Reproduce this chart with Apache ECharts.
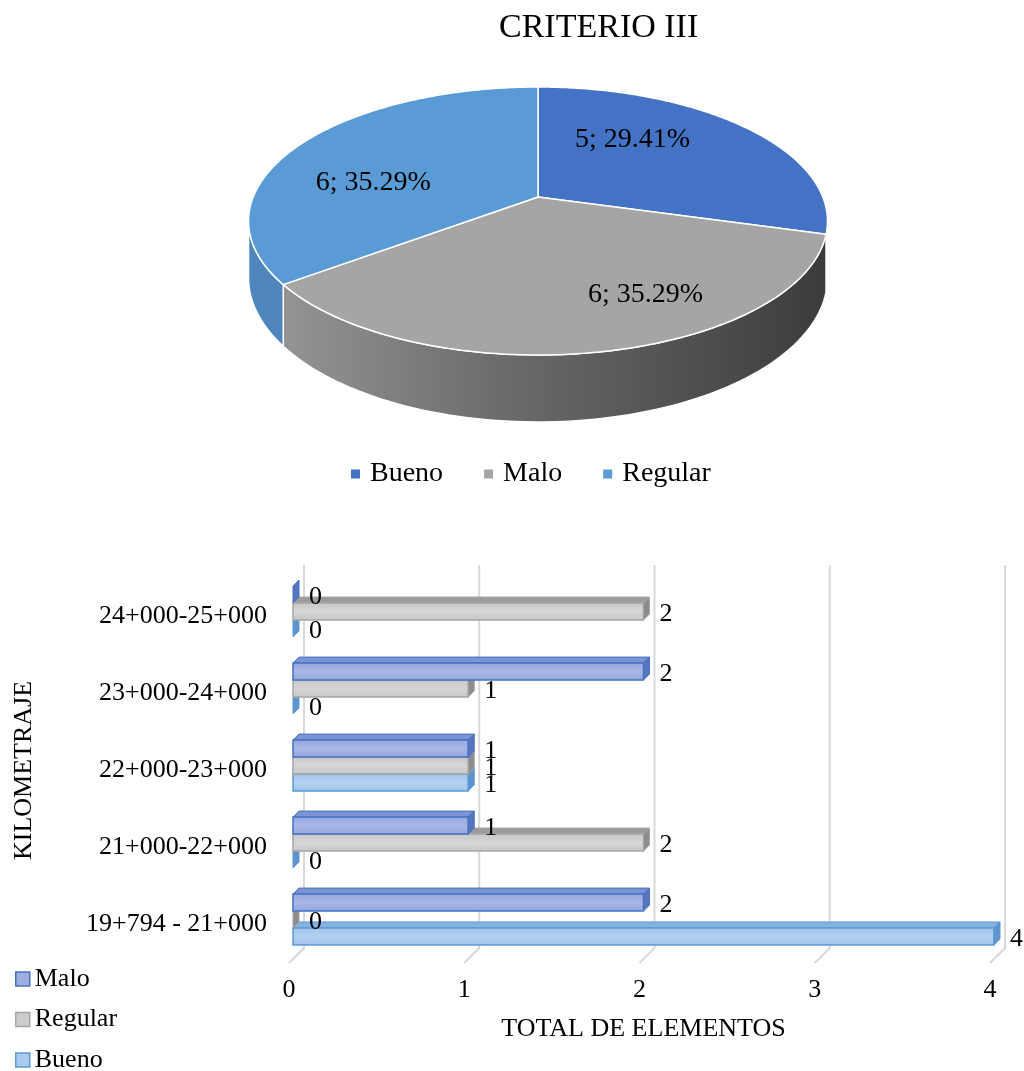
<!DOCTYPE html>
<html>
<head>
<meta charset="utf-8">
<title>CRITERIO III</title>
<script src="https://cdn.jsdelivr.net/npm/echarts@6/dist/echarts.min.js"></script>
<style>
  html, body { margin: 0; padding: 0; background: #ffffff; overflow: hidden; }
  #pie  { position: absolute; left: 0; top: 0;     width: 1024px; height: 520px; }
  #bars { position: absolute; left: 0; top: 520px; width: 1024px; height: 600px; }
</style>
</head>
<body>
<div id="pie"></div>
<div id="bars"></div>
<script>
// ---- data -------------------------------------------------------------
const pieNames = ['Bueno', 'Malo', 'Regular'];
const pieValues = [5, 6, 6];

const tramos = ['19+794 - 21+000', '21+000-22+000', '22+000-23+000', '23+000-24+000', '24+000-25+000'];
const maloValues = [2, 1, 1, 2, 0];
const regularValues = [0, 2, 1, 1, 2];
const buenoValues = [4, 0, 1, 0, 0];
const xTicks = [0, 1, 2, 3, 4];

// ---- shared look ------------------------------------------------------
const FONT = '"Liberation Serif", "Times New Roman", serif';
const TXT = '#000000';

// ======================================================================
// 3D pie drawn with custom series (one series per slice so the legend works)
// ======================================================================
const pieChart = echarts.init(document.getElementById('pie'), null, { renderer: 'canvas' });

// perspective disc: centre, half axes, perspective strength, wall height
const DISC = { cx: 538, cy: 197, a: 284.8, b: 129.7, k: 0.179, depth: 55 };
const TOP_COLORS = ['#4472C4', '#A5A5A5', '#5B9BD5'];
const WALL_FILLS = [
  new echarts.graphic.LinearGradient(250, 0, 826, 0, [{ offset: 0, color: '#3a5da0' }, { offset: 1, color: '#2c4a86' }], true),
  new echarts.graphic.LinearGradient(250, 0, 826, 0, [{ offset: 0, color: '#9a9a9a' }, { offset: 0.45, color: '#6a6a6a' }, { offset: 1, color: '#3c3c3c' }], true),
  new echarts.graphic.LinearGradient(250, 0, 826, 0, [{ offset: 0, color: '#4f86be' }, { offset: 1, color: '#3f72a8' }], true)
];

// point on the disc, phi measured clockwise from 12 o'clock, r as fraction of radius
function discPoint(phi, r) {
  const rr = r == null ? 1 : r;
  const X = rr * Math.sin(phi);
  const Z = -rr * Math.cos(phi);
  const w = 1 / (1 - DISC.k * Z);
  return [DISC.cx + DISC.a * X * w, DISC.cy + DISC.b * Z * w, w];
}

// the front arc (between the left and right silhouette points) shows its wall
const FRONT = (function () {
  let maxX = -Infinity, minX = Infinity, pR = 0, pL = 0;
  for (let n = 0; n <= 3600; n++) {
    const phi = n / 3600 * Math.PI * 2;
    const p = discPoint(phi);
    if (p[0] > maxX) { maxX = p[0]; pR = phi; }
    if (p[0] < minX) { minX = p[0]; pL = phi; }
  }
  return [pR, pL];
})();

function sliceRenderer(idx) {
  return function (params, api) {
    const total = pieValues.reduce((s, v) => s + v, 0);
    let before = 0;
    for (let j = 0; j < idx; j++) before += pieValues[j];
    const v = api.value(0);
    const a0 = before / total * Math.PI * 2;
    const a1 = (before + v) / total * Math.PI * 2;
    const children = [];

    // visible side wall
    const s = Math.max(a0, FRONT[0]);
    const e = Math.min(a1, FRONT[1]);
    if (e > s) {
      const topEdge = [], botEdge = [];
      const N = 80;
      for (let n = 0; n <= N; n++) {
        const p = discPoint(s + (e - s) * n / N);
        topEdge.push([p[0], p[1]]);
        botEdge.push([p[0], p[1] + DISC.depth * p[2]]);
      }
      children.push({
        type: 'polygon',
        shape: { points: topEdge.concat(botEdge.reverse()) },
        style: { fill: WALL_FILLS[idx], stroke: '#ffffff', lineWidth: 1.5 },
        z2: 1
      });
    }

    // top face
    const pts = [[DISC.cx, DISC.cy]];
    const M = 160;
    for (let n = 0; n <= M; n++) {
      const p = discPoint(a0 + (a1 - a0) * n / M);
      pts.push([p[0], p[1]]);
    }
    children.push({
      type: 'polygon',
      shape: { points: pts },
      style: { fill: TOP_COLORS[idx], stroke: '#ffffff', lineWidth: 1.5, lineJoin: 'round' },
      z2: 2
    });

    // "value; percent" label inside the slice, pushed outward on the near side
    const mid = (a0 + a1) / 2 - 16 * Math.PI / 180;
    const nearness = Math.max(0, -Math.cos(mid));
    const lp = discPoint(mid, 0.6 + 0.16 * nearness);
    children.push({
      type: 'text',
      style: {
        text: v + '; ' + (v / total * 100).toFixed(2) + '%',
        x: lp[0], y: lp[1],
        textAlign: 'center', textVerticalAlign: 'middle',
        font: '28px ' + FONT, fill: TXT
      },
      z2: 10
    });
    return { type: 'group', children: children };
  };
}

pieChart.setOption({
  animation: false,
  backgroundColor: '#ffffff',
  title: {
    text: 'CRITERIO III',
    left: 494, top: 6,
    textStyle: { fontFamily: FONT, fontSize: 34, fontWeight: 'normal', color: TXT }
  },
  legend: {
    left: 346, top: 455,
    itemWidth: 19, itemHeight: 9, itemGap: 41,
    icon: 'path://M0,0h10v10h-10z',
    textStyle: { fontFamily: FONT, fontSize: 28, lineHeight: 28, color: TXT },
    data: pieNames.map((n, i) => ({ name: n, itemStyle: { color: TOP_COLORS[i], borderWidth: 0 } }))
  },
  series: pieNames.map((n, i) => ({
    type: 'custom',
    name: n,
    coordinateSystem: 'none',
    itemStyle: { color: TOP_COLORS[i] },
    data: [[pieValues[i]]],
    renderItem: sliceRenderer(i)
  }))
});

// ======================================================================
// 3D horizontal bars (custom series on a category/value grid)
// ======================================================================
const barChart = echarts.init(document.getElementById('bars'), null, { renderer: 'canvas' });

const BAR_DEPTH = 6;
function vGrad(a, b) {
  return new echarts.graphic.LinearGradient(0, 0, 0, 1, [
    { offset: 0, color: a }, { offset: 0.5, color: b }, { offset: 1, color: a }
  ]);
}
const BAR_STYLES = {
  Malo:    { slot: 0, front: vGrad('#93a5dc', '#a9b7e7'), top: '#7d93d4', side: '#5a73bd', stroke: '#4472C4', legend: '#9cade0' },
  Regular: { slot: 1, front: vGrad('#c6c6c6', '#d6d6d6'), top: '#9c9c9c', side: '#8c8c8c', stroke: '#A5A5A5', legend: '#cccccc' },
  Bueno:   { slot: 2, front: vGrad('#9fc2ea', '#b4d1f1'), top: '#86b2e2', side: '#5f93cc', stroke: '#5B9BD5', legend: '#aacaee' }
};

function barRenderer(st) {
  return function (params, api) {
    const v = api.value(0);
    const ci = api.value(1);
    const base = api.coord([0, ci]);
    const end = api.coord([v, ci]);
    const band = api.size([0, 1])[1];
    const h = band * 0.22;
    const yTop = base[1] - band * 0.065 - 1.5 * h + st.slot * h;
    const x0 = base[0], x1 = end[0];
    const d = BAR_DEPTH;
    const zBase = (3 - st.slot) * 10;
    const children = [];
    if (x1 - x0 > 0.5) {
      children.push({
        type: 'polygon',
        shape: { points: [[x0, yTop], [x0 + d, yTop - d], [x1 + d, yTop - d], [x1, yTop]] },
        style: { fill: st.top, stroke: st.stroke, lineWidth: 1 },
        z2: zBase
      });
      children.push({
        type: 'rect',
        shape: { x: x0, y: yTop, width: x1 - x0, height: h },
        style: { fill: st.front, stroke: st.stroke, lineWidth: 1.5 },
        z2: zBase + 1
      });
    }
    children.push({
      type: 'polygon',
      shape: { points: [[x1, yTop], [x1 + d, yTop - d], [x1 + d, yTop + h - d], [x1, yTop + h]] },
      style: { fill: st.side, stroke: st.stroke, lineWidth: 1 },
      z2: zBase + 2
    });
    children.push({
      type: 'text',
      style: {
        text: String(v),
        x: x1 + d + 10, y: yTop + h / 2 + 3,
        textAlign: 'left', textVerticalAlign: 'middle',
        font: '26px ' + FONT, fill: TXT
      },
      z2: 100
    });
    return { type: 'group', children: children };
  };
}

// back wall + floor guide lines at each tick of the value axis
function gridLineRenderer(params, api) {
  const cs = params.coordSys;
  const x = api.coord([api.value(0), 0])[0];
  const bottom = cs.y + cs.height;
  return {
    type: 'polyline',
    shape: { points: [[x + 11, cs.y - 13], [x + 11, bottom - 15], [x - 4, bottom]] },
    style: { stroke: '#d9d9d9', lineWidth: 2, fill: null }
  };
}

function barSeries(name, values) {
  const st = BAR_STYLES[name];
  return {
    type: 'custom',
    name: name,
    z: 3,
    itemStyle: { color: st.legend, borderColor: st.stroke },
    encode: { x: 0, y: 1 },
    data: values.map((v, i) => [v, i]),
    renderItem: barRenderer(st)
  };
}

barChart.setOption({
  animation: false,
  backgroundColor: '#ffffff',
  grid: { left: 293, right: 30, top: 58, bottom: 157, containLabel: false, outerBoundsMode: 'none' },
  legend: {
    orient: 'vertical',
    left: 10, top: 441, height: 150,
    itemWidth: 14, itemHeight: 14, itemGap: 14.5,
    icon: 'rect',
    textStyle: { fontFamily: FONT, fontSize: 26, lineHeight: 26, color: TXT },
    data: ['Malo', 'Regular', 'Bueno'].map(n => ({
      name: n,
      itemStyle: { color: BAR_STYLES[n].legend, borderColor: BAR_STYLES[n].stroke, borderWidth: 1.5 }
    }))
  },
  xAxis: {
    type: 'value',
    min: 0, max: 4, interval: 1,
    name: 'TOTAL DE ELEMENTOS',
    nameLocation: 'middle',
    nameGap: 53,
    nameTextStyle: { fontFamily: FONT, fontSize: 26, lineHeight: 26, color: TXT },
    axisLine: { show: false },
    axisTick: { show: false },
    splitLine: { show: false },
    axisLabel: { fontFamily: FONT, fontSize: 26, lineHeight: 26, color: TXT, margin: 14, padding: [0, 8, 0, 0] }
  },
  yAxis: {
    type: 'category',
    data: tramos,
    name: 'KILOMETRAJE',
    nameLocation: 'middle',
    nameGap: 256,
    nameTextStyle: { fontFamily: FONT, fontSize: 26, lineHeight: 26, color: TXT },
    axisLine: { show: false },
    axisTick: { show: false },
    splitLine: { show: false },
    axisLabel: { fontFamily: FONT, fontSize: 26, color: TXT, margin: 26 }
  },
  series: [
    {
      type: 'custom',
      name: 'guias',
      silent: true,
      z: 1,
      encode: { x: 0, y: 1 },
      data: xTicks.map(t => [t, 0]),
      renderItem: gridLineRenderer
    },
    barSeries('Malo', maloValues),
    barSeries('Regular', regularValues),
    barSeries('Bueno', buenoValues)
  ]
});
</script>
</body>
</html>
